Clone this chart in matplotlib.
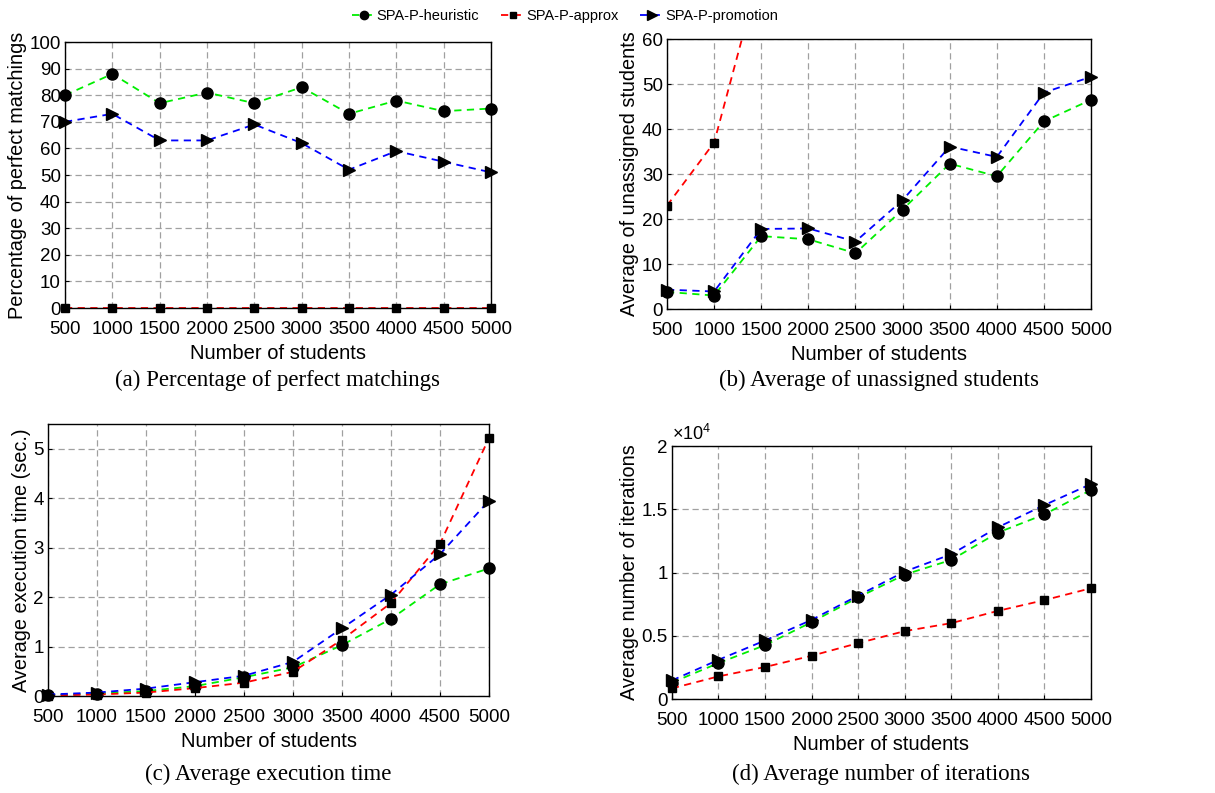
import matplotlib.pyplot as plt
from matplotlib.ticker import FuncFormatter

students = [500, 1000, 1500, 2000, 2500, 3000, 3500, 4000, 4500, 5000]

# (a) percentage of perfect matchings
perf_heur = [80, 88, 77, 81, 77, 83, 73, 78, 74, 75]
perf_approx = [0, 0, 0, 0, 0, 0, 0, 0, 0, 0]
perf_promo = [70, 73, 63, 63, 69, 62, 52, 59, 55, 51]

# (b) average of unassigned students (approx runs off the top after 1000)
unas_heur = [3.8, 3.0, 16.2, 15.5, 12.4, 22.1, 32.3, 29.5, 41.7, 46.5]
unas_approx = [23, 37, 76, 95, 115, 135, 160, 180, 200, 220]
unas_promo = [4.3, 3.9, 17.8, 17.9, 15.0, 24.2, 36.1, 33.8, 48.1, 51.6]

# (c) average execution time (sec.)
time_heur = [0.02, 0.05, 0.10, 0.20, 0.38, 0.58, 1.03, 1.56, 2.26, 2.58]
time_approx = [0.01, 0.03, 0.07, 0.16, 0.27, 0.49, 1.14, 1.88, 3.08, 5.22]
time_promo = [0.03, 0.07, 0.15, 0.28, 0.41, 0.69, 1.37, 2.05, 2.87, 3.95]

# (d) average number of iterations
iter_heur = [1300, 2840, 4260, 6080, 8030, 9840, 11000, 13160, 14600, 16530]
iter_approx = [840, 1790, 2530, 3420, 4420, 5370, 6000, 6970, 7820, 8760]
iter_promo = [1470, 3100, 4630, 6260, 8180, 10080, 11450, 13580, 15340, 17000]

names = ["SPA-P-heuristic", "SPA-P-approx", "SPA-P-promotion"]
colors = ["#00ee00", "#ff0000", "#0000ff"]
markers = ["o", "s", ">"]
msizes = [8, 6, 9]

plt.rcParams['font.family'] = ['Liberation Sans', 'DejaVu Sans']
plt.rcParams['mathtext.fontset'] = 'custom'
plt.rcParams['mathtext.rm'] = 'Liberation Sans'

fig = plt.figure(figsize=(12.15, 7.93), dpi=100)

panels = [
    ([0.0535, 0.6116, 0.3506, 0.3354], [perf_heur, perf_approx, perf_promo],
     (0, 100), list(range(0, 101, 10)), "Percentage of perfect matchings",
     "(a) Percentage of perfect matchings", -0.232),
    ([0.549, 0.6103, 0.349, 0.3405], [unas_heur, unas_approx, unas_promo],
     (0, 60), list(range(0, 61, 10)), "Average of unassigned students",
     "(b) Average of unassigned students", -0.226),
    ([0.0395, 0.1223, 0.363, 0.343], [time_heur, time_approx, time_promo],
     (0, 5.5), [0, 1, 2, 3, 4, 5], "Average execution time (sec.)",
     "(c) Average execution time", -0.25),
    ([0.553, 0.1185, 0.345, 0.319], [iter_heur, iter_approx, iter_promo],
     (0, 20000), [0, 5000, 10000, 15000, 20000], "Average number of iterations",
     "(d) Average number of iterations", -0.258),
]

handles = []
for i, (pos, series, ylim, yticks, ylabel, caption, cap_y) in enumerate(panels):
    ax = fig.add_axes(pos)
    for s, (vals, c, m, ms) in enumerate(zip(series, colors, markers, msizes)):
        ln, = ax.plot(students, vals, linestyle=(0, (4, 3)), color=c, lw=1.3,
                      marker=m, markersize=ms, markerfacecolor='black',
                      markeredgecolor='black', clip_on=(i == 1 and s == 1),
                      label=names[s])
        if i == 0:
            handles.append(ln)
    ax.set_xlim(500, 5000)
    ax.set_ylim(*ylim)
    ax.set_xticks(students)
    ax.set_yticks(yticks)
    ax.grid(True, linestyle=(0, (5, 3)), color='#a0a0a0', lw=0.9)
    ax.tick_params(direction='in', length=3, labelsize=13.5, pad=3)
    ax.tick_params(axis='x', pad=9)
    for sp in ax.spines.values():
        sp.set_linewidth(1.0)
    ax.set_ylabel(ylabel, fontsize=14.3, labelpad=2)
    ax.set_xlabel("Number of students", fontsize=14.5, labelpad=5)
    if i == 3:
        ax.yaxis.set_major_formatter(FuncFormatter(lambda v, p: "%g" % (v / 1e4)))
        ax.text(0.0, 1.01, r"$\times10^4$", transform=ax.transAxes,
                fontsize=13, ha='left', va='bottom')
    ax.text(0.5, cap_y, caption, transform=ax.transAxes,
            ha='center', va='top', fontsize=16.5, family='Liberation Serif')

fig.legend(handles=handles, loc='upper center', bbox_to_anchor=(0.465, 1.005),
           ncol=3, frameon=False, fontsize=10.5, handlelength=1.6,
           handletextpad=0.1, columnspacing=1.5, markerscale=0.75)

fig.savefig("out.png", dpi=100)
